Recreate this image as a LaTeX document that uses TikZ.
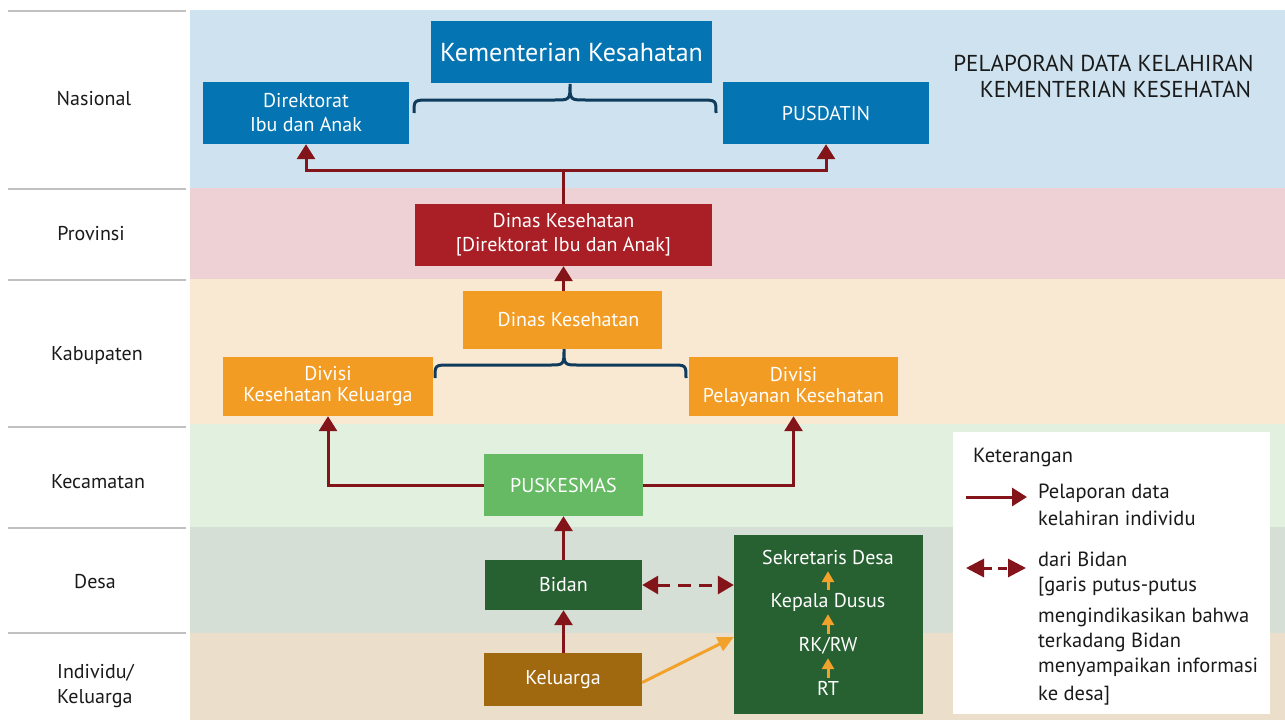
\documentclass[tikz,border=0pt]{standalone}
\usepackage{fontspec}
\setmainfont{PT Sans}
\usetikzlibrary{arrows.meta,calc}
\definecolor{bandblue}{HTML}{CEE3EF}
\definecolor{bandpink}{HTML}{EED1D4}
\definecolor{bandorange}{HTML}{FAE9D2}
\definecolor{bandgreen}{HTML}{E1F0DF}
\definecolor{banddesa}{HTML}{D5DFD6}
\definecolor{bandtan}{HTML}{EBDFCC}
\definecolor{boxblue}{HTML}{0474B2}
\definecolor{boxred}{HTML}{AA1F26}
\definecolor{boxorange}{HTML}{F29C24}
\definecolor{boxlgreen}{HTML}{66BA64}
\definecolor{boxdgreen}{HTML}{276131}
\definecolor{boxbrown}{HTML}{A0680F}
\definecolor{dred}{HTML}{83141A}
\definecolor{bracecol}{HTML}{0F3B5C}
\definecolor{oarrow}{HTML}{F2A12B}
\definecolor{greyline}{HTML}{C0C0C0}
\definecolor{txt}{HTML}{1A1A1A}
\newcommand\fsz[2]{\fontsize{#1}{#2}\selectfont}
\tikzset{
  bx/.style={inner sep=0pt, text=white, align=center, font=\fsz{20}{24}},
  lvl/.style={inner sep=0pt, text=txt, align=center, font=\fsz{20}{25}},
  legt/.style={inner sep=0pt, text=txt, anchor=base west, font=\fsz{20.5}{24}},
  dtxt/.style={inner sep=1.5pt, text=white, font=\fsz{20}{24}, text height=13pt, text depth=4pt},
  rline/.style={draw=dred, line width=3pt},
  rarr/.style={rline, -{Triangle[width=18pt,length=15pt]}},
  rdash/.style={rline, dash pattern=on 13pt off 8pt, {Triangle[width=18pt,length=16pt]}-{Triangle[width=18pt,length=16pt]}},
  oarr/.style={draw=oarrow, line width=3pt, -{Triangle[width=15pt,length=16pt]}},
  oarrs/.style={draw=oarrow, line width=3pt, -{Triangle[width=12pt,length=11pt]}},
  bracep/.style={draw=bracecol, line width=3pt},
  gline/.style={draw=greyline, line width=2pt},
}
\begin{document}
\begin{tikzpicture}[x=1pt,y=-1pt]
\useasboundingbox (0,0) rectangle (1285,720);
\fill[white] (0,0) rectangle (1285,720);
% bands
\fill[bandblue] (190,10) rectangle (1285,188);
\fill[bandpink] (190,188) rectangle (1285,279);
\fill[bandorange] (190,279) rectangle (1285,424);
\fill[bandgreen] (190,424) rectangle (1285,527);
\fill[banddesa] (190,527) rectangle (1285,633);
\fill[bandtan] (190,633) rectangle (1285,720);
% left grey lines
\foreach \yy in {11,189,280,427,528,633} \draw[gline] (8,\yy) -- (186,\yy);
% level labels
\node[lvl] (lnas) at (94,99) {Nasional};
\node[lvl] (lprov) at (91,234) {Provinsi};
\node[lvl] (lkab) at (97,355) {Kabupaten};
\node[lvl] (lkec) at (98,482) {Kecamatan};
\node[lvl] (ldesa) at (95,582) {Desa};
\node[lvl, align=left, anchor=west] (lind) at (57,686) {Individu/\\Keluarga};
% title
\node[inner sep=0pt, text=txt, font=\fsz{23}{26}] (t1) at (1103.5,63) {PELAPORAN DATA KELAHIRAN};
\node[inner sep=0pt, text=txt, font=\fsz{23}{26}] (t2) at (1115.5,89) {KEMENTERIAN KESEHATAN};
% national boxes
\node[bx, fill=boxblue, minimum width=281pt, minimum height=62pt, font=\fsz{26}{30}] (kem) at (571.5,52) {Kementerian Kesahatan};
\node[bx, fill=boxblue, minimum width=206pt, minimum height=62pt] (dir) at (306,113) {Direktorat\\Ibu dan Anak};
\node[bx, fill=boxblue, minimum width=206pt, minimum height=62pt] (pus) at (826,113) {PUSDATIN};
% brace 1
\draw[bracep] (414,113) .. controls (414,100) .. (430,100) -- (554,100) .. controls (570,100) .. (570,84)
  .. controls (570,100) .. (586,100) -- (700,100) .. controls (716,100) .. (716,113);
% province
\node[bx, fill=boxred, minimum width=297pt, minimum height=62pt] (prov) at (563.5,235) {Dinas Kesehatan\\{[}Direktorat Ibu dan Anak{]}};
% kabupaten
\node[bx, fill=boxorange, minimum width=199pt, minimum height=58pt] (kab) at (562.5,320) {\hspace*{12pt}Dinas Kesehatan};
\node[bx, fill=boxorange, minimum width=210pt, minimum height=59pt, font=\fsz{20}{21}] (dkk) at (328,386.5) {Divisi\\Kesehatan Keluarga};
\node[bx, fill=boxorange, minimum width=209pt, minimum height=59pt, font=\fsz{20}{21}] (dpk) at (793.5,386.5) {Divisi\\Pelayanan Kesehatan};
% brace 2
\draw[bracep] (435,378) .. controls (435,365) .. (450,365) -- (549,365) .. controls (564,365) .. (564,349)
  .. controls (564,365) .. (579,365) -- (671,365) .. controls (686,365) .. (686,378);
% kecamatan
\node[bx, fill=boxlgreen, minimum width=159pt, minimum height=62pt] (pkm) at (563.5,485) {PUSKESMAS};
% desa
\node[bx, fill=boxdgreen, minimum width=157pt, minimum height=50pt] (bidan) at (563.5,585) {Bidan};
\node[bx, fill=boxbrown, minimum width=158pt, minimum height=53pt] (kel) at (563,679.5) {Keluarga};
\node[fill=boxdgreen, inner sep=0pt, minimum width=189pt, minimum height=179pt] (desa) at (828.5,624.5) {};
\node[dtxt] (sd) at (828,560) {Sekretaris Desa};
\node[dtxt] (kd) at (828,603) {Kepala Dusus};
\node[dtxt] (rk) at (828,647) {RK/RW};
\node[dtxt] (rt) at (828,691) {RT};
\draw[oarrs, shorten <=3pt, shorten >=1pt] (kd.north) -- (sd.south);
\draw[oarrs, shorten <=3pt, shorten >=1pt] (rk.north) -- (kd.south);
\draw[oarrs, shorten <=3pt, shorten >=1pt] (rt.north) -- (rk.south);
% legend
\node[fill=white, inner sep=0pt, minimum width=317pt, minimum height=282pt] (leg) at (1111.5,573) {};
\node[legt] (lk) at (973,462) {Keterangan};
\coordinate (la1) at (966,497);
\coordinate (la2) at (1027,497);
\draw[rarr] (la1) -- (la2);
\node[legt] (l1) at (1038,498) {Pelaporan data};
\node[legt] (l2) at (1038,525) {kelahiran individu};
\coordinate (lb1) at (966,568);
\coordinate (lb2) at (1026,568);
\draw[rline, dash pattern=on 9pt off 6pt, {Triangle[width=18pt,length=18pt]}-{Triangle[width=18pt,length=18pt]}] (lb1) -- (lb2);
\node[legt] (l3) at (1038,566) {dari Bidan};
\node[legt] (l4) at (1038,591) {{[}garis putus-putus};
\node[legt] (l5) at (1038,622) {mengindikasikan bahwa};
\node[legt] (l6) at (1038,647) {terkadang Bidan};
\node[legt] (l7) at (1038,672) {menyampaikan informasi};
\node[legt] (l8) at (1038,700) {ke desa{]}};
% connectors
\coordinate (j1) at (prov.north |- 0,170);
\draw[rline] (prov.north) -- (j1);
\draw[rarr] (j1) -| (dir.south);
\draw[rarr] (j1) -| (pus.south);
\draw[rarr] (kab.north -| prov.south) -- (prov.south);
\draw[rarr] (pkm.west) -| (dkk.south);
\draw[rarr] (pkm.east) -| (dpk.south);
\draw[rarr] (bidan.north -| pkm.south) -- (pkm.south);
\draw[rarr] (kel.north -| bidan.south) -- (bidan.south);
\draw[rdash] (bidan.east) -- (bidan.east -| desa.west);
\draw[oarr] ($(kel.east)+(0,3)$) -- ($(desa.west)+(0,12.5)$);
\end{tikzpicture}
\end{document}
